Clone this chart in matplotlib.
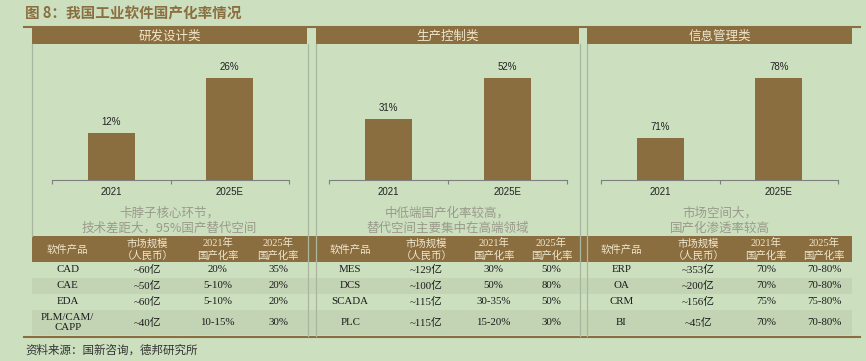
import matplotlib.pyplot as plt
from matplotlib.patches import Rectangle

plt.rcParams['font.family'] = ['Noto Sans CJK SC', 'DejaVu Sans']

# Data
title = '图 8：我国工业软件国产化率情况'
source = '资料来源：国新咨询，德邦研究所'
panel_titles = ['研发设计类', '生产控制类', '信息管理类']
years = ['2021', '2025E']
rate_design = [12, 26]
rate_control = [31, 52]
rate_info = [71, 78]
notes = ['卡脖子核心环节，\n技术差距大，95%国产替代空间',
         '中低端国产化率较高，\n替代空间主要集中在高端领域',
         '市场空间大，\n国产化渗透率较高']
table_head = ['软件产品', '市场规模\n（人民币）', '2021年\n国产化率', '2025年\n国产化率']

products_design = ['CAD', 'CAE', 'EDA', 'PLM/CAM/\nCAPP']
market_design = ['~60亿', '~50亿', '~60亿', '~40亿']
r2021_design = ['20%', '5-10%', '5-10%', '10-15%']
r2025_design = ['35%', '20%', '20%', '30%']

products_control = ['MES', 'DCS', 'SCADA', 'PLC']
market_control = ['~129亿', '~100亿', '~115亿', '~115亿']
r2021_control = ['30%', '50%', '30-35%', '15-20%']
r2025_control = ['50%', '80%', '50%', '30%']

products_info = ['ERP', 'OA', 'CRM', 'BI']
market_info = ['~353亿', '~200亿', '~156亿', '~45亿']
r2021_info = ['70%', '70%', '75%', '70%']
r2025_info = ['70-80%', '70-80%', '75-80%', '70-80%']

# Style / layout (pixels)
W, H = 866, 361
BG = '#CCE0C0'
BROWN = '#8B6E40'
SHADE = '#C3D4B4'
HEAD_TXT = '#EFE6CC'
VLINE = '#A8B6A0'
NOTE = '#9A9A8A'
SERIF = ['Liberation Serif', 'Noto Sans CJK SC']

panel_x = [(32, 307), (316, 579), (587, 852)]
axes_x = [(52, 289), (329, 567), (601, 838)]
y_limits = [(0, 33), (0, 66), (66, 81.3)]
col_frac = [0.13, 0.42, 0.675, 0.895]
row_edges = [262, 278, 294, 310, 335]

bars = [rate_design, rate_control, rate_info]
tables = [
    [products_design, market_design, r2021_design, r2025_design],
    [products_control, market_control, r2021_control, r2025_control],
    [products_info, market_info, r2021_info, r2025_info],
]

fig = plt.figure(figsize=(W / 100, H / 100), dpi=100, facecolor=BG)
bg = fig.add_axes([0, 0, 1, 1])
bg.set_xlim(0, W)
bg.set_ylim(H, 0)
bg.axis('off')

bg.text(25, 14, title, fontsize=10.5, fontweight='bold', color=BROWN, va='center')
bg.plot([24, 860], [26.5, 26.5], color=BROWN, lw=1.5)
bg.plot([24, 860], [336.5, 336.5], color=BROWN, lw=1.5)
bg.text(25, 350, source, fontsize=8.3, color='#333333', va='center')

# table header band and shaded rows
bg.add_patch(Rectangle((32, 236), 820, 26, color=BROWN, lw=0))
for i in (1, 3):
    bg.add_patch(Rectangle((32, row_edges[i]), 820, row_edges[i + 1] - row_edges[i],
                           color=SHADE, lw=0))

bg.plot([32, 32], [44, 236], color=VLINE, lw=0.9)
for x in (307.5, 316, 579.5, 587):
    bg.plot([x, x], [44, 336], color=VLINE, lw=0.9)

for p, (x0, x1) in enumerate(panel_x):
    bg.add_patch(Rectangle((x0, 28), x1 - x0, 16, color=BROWN, lw=0))
    bg.text((x0 + x1) / 2, 36, panel_titles[p], fontsize=9, color=HEAD_TXT,
            ha='center', va='center')
    bg.text((x0 + x1) / 2, 221, notes[p], fontsize=9, color=NOTE,
            ha='center', va='center', linespacing=1.2)

    cols = [x0 + f * (x1 - x0) for f in col_frac]
    for c, head in enumerate(table_head):
        bg.text(cols[c], 249.5, head, fontsize=7.5, color=HEAD_TXT, family=SERIF,
                ha='center', va='center', linespacing=1.25)
    for c, col in enumerate(tables[p]):
        for r, val in enumerate(col):
            yc = (row_edges[r] + row_edges[r + 1]) / 2
            bg.text(cols[c], yc, val, fontsize=7.8, color='#1a1a1a', family=SERIF,
                    ha='center', va='center', linespacing=1.15)

    # bar chart
    l, r = axes_x[p]
    ax = fig.add_axes([l / W, 1 - 180 / H, (r - l) / W, 130 / H])
    ax.patch.set_alpha(0)
    ax.bar(range(len(years)), bars[p], width=0.4, color=BROWN)
    ax.set_xlim(-0.5, len(years) - 0.5)
    ax.set_ylim(*y_limits[p])
    for s in ('top', 'right', 'left'):
        ax.spines[s].set_visible(False)
    ax.spines['bottom'].set_color('#7F7F7F')
    ax.spines['bottom'].set_linewidth(0.8)
    ax.set_yticks([])
    ax.set_xticks(range(len(years)))
    ax.set_xticklabels(years, fontsize=7, family='Liberation Sans', color='#222222')
    ax.tick_params(axis='x', which='major', length=0, pad=5)
    ax.set_xticks([-0.5, 0.5, 1.5], minor=True)
    ax.tick_params(axis='x', which='minor', length=3, width=0.8, color='#7F7F7F')
    for i, v in enumerate(bars[p]):
        ax.annotate(f'{v}%', (i, v), xytext=(0, 4), textcoords='offset points',
                    ha='center', va='bottom', fontsize=7, family='Liberation Sans',
                    color='#222222')

plt.savefig('out.png', dpi=100, facecolor=BG)
